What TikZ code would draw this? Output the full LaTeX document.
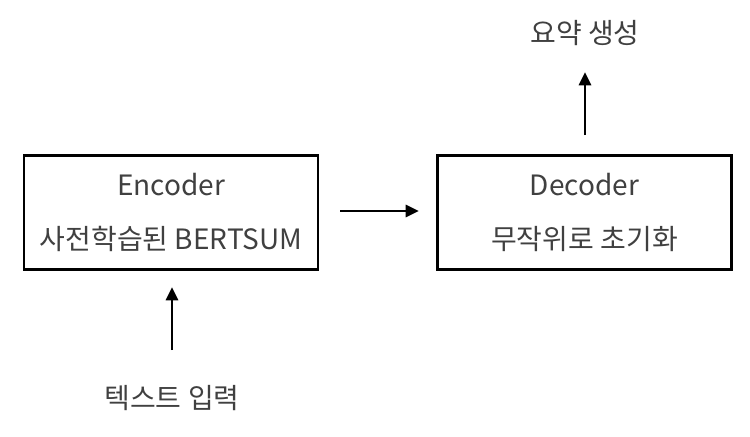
\documentclass[tikz,border=0pt]{standalone}
\usepackage{fontspec}
\setmainfont{Noto Sans CJK KR}
\usepackage{xcolor}
\usetikzlibrary{arrows.meta}
\definecolor{txtgray}{HTML}{404040}
\begin{document}
\begin{tikzpicture}[x=0.75pt,y=0.75pt,yscale=-1,xscale=1,
    blockbox/.style={draw=black,line width=2.2pt,minimum width=220.5pt,minimum height=86pt,inner sep=0pt,align=center,text=txtgray,font=\fontsize{21}{40}\selectfont},
    lbl/.style={inner sep=0pt,text=txtgray,font=\fontsize{21}{24}\selectfont},
    flow/.style={line width=2.2pt,-{Triangle[length=10pt,width=9pt]}}]
    \useasboundingbox (0,0) rectangle (750,436);
    
    % Blocks
    \node [blockbox] (enc) at (171,212.5) {Encoder\\사전학습된 BERTSUM};
    \node [blockbox] (dec) at (584.5,212.5) {Decoder\\무작위로 초기화};
    
    % Text Node
    \node [lbl] (inp) at (172,398) {텍스트 입력};
    % Text Node
    \node [lbl] (out) at (585,33) {요약 생성};
    
    % Arrow ends
    \coordinate (encR) at (340,211);
    \coordinate (decL) at (419,211);
    \coordinate (inpT) at (172,350);
    \coordinate (encB) at (172,287);
    \coordinate (decT) at (585,135);
    \coordinate (outB) at (585,72);
    
    % Arrows
    \draw [flow] (encR) -- (decL);
    \draw [flow] (inpT) -- (encB);
    \draw [flow] (decT) -- (outB);
\end{tikzpicture}
\end{document}
